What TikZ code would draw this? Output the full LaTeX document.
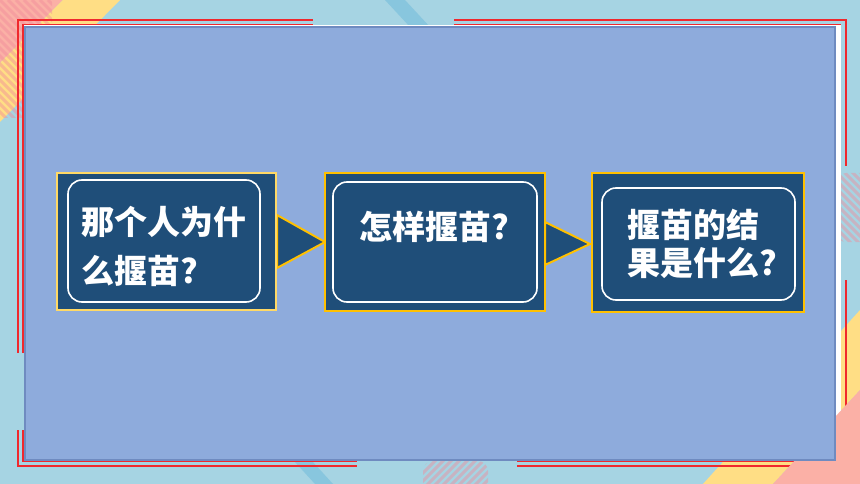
\documentclass[tikz,border=0pt]{standalone}
\usepackage{fontspec}
\newfontfamily\cjk{Noto Sans CJK SC}
\definecolor{bgblue}{HTML}{A6D4E3}
\definecolor{bandblue}{HTML}{88C6DE}
\definecolor{panelblue}{HTML}{8EABDC}
\definecolor{paneledge}{HTML}{6F8BC0}
\definecolor{darkblue}{HTML}{1F4E79}
\definecolor{gold}{HTML}{FFC000}
\definecolor{lightgold}{HTML}{FFD966}
\definecolor{framered}{HTML}{F0282D}
\definecolor{pinkc}{HTML}{FBB0A6}
\definecolor{yellowc}{HTML}{FFDE85}
\definecolor{stripec}{HTML}{F08C9A}
\tikzset{
  redline/.style={draw=framered, line width=1.8pt},
  stripe/.style={draw=stripec, opacity=0.45, line width=3pt},
  outerbox/.style={rectangle, fill=darkblue, draw=gold, line width=2.5pt, inner sep=0pt},
  innerbox/.style={rectangle, rounded corners=14pt, draw=white, line width=1.6pt, inner sep=0pt},
  tri/.style={fill=darkblue, draw=gold, line width=2pt, line join=miter},
  qtext/.style={text=white, font=\cjk\bfseries\fontsize{33}{49}\selectfont, align=left, inner sep=0pt}
}
\begin{document}
\begin{tikzpicture}[x=1pt,y=-1pt]
\useasboundingbox (0,0) rectangle (860,484);
\fill[bgblue] (0,0) rectangle (860,484);
% diagonal bands
\fill[bandblue] (385,0) -- (405,0) -- (430,27) -- (410,27) -- cycle;
\fill[bandblue] (294,461) -- (312,461) -- (333,484) -- (315,484) -- cycle;
% top-left corner decoration
\fill[pinkc] (0,0) -- (63,0) -- (0,63) -- cycle;
\fill[yellowc] (63,0) -- (120,0) -- (0,122) -- (0,63) -- cycle;
\begin{scope}
  \clip[rounded corners=6pt] (-10,-10) rectangle (52,118);
  \foreach \i in {-160,-152,...,60} \draw[stripe] (\i,0) -- ++(140,140);
\end{scope}
% bottom-right yellow band
\fill[yellowc] (703,484) -- (860,310) -- (860,390) -- (773,484) -- cycle;
% hatched patches
\begin{scope}
  \clip[rounded corners=10pt] (423,461) rectangle (488,494);
  \foreach \i in {380,388,...,520} \draw[stripe] (\i,500) -- ++(50,-50);
\end{scope}
\begin{scope}
  \clip[rounded corners=10pt] (836,173) rectangle (870,242);
  \foreach \i in {720,728,...,880} \draw[stripe] (\i,160) -- ++(100,100);
\end{scope}
% red frame lines
\draw[redline] (18,353) -- (18,20) -- (313,20);
\draw[redline] (23,353) -- (23,25) -- (313,25);
\draw[redline] (454,20) -- (846,20) -- (846,166);
\draw[redline] (454,25) -- (840,25) -- (840,166);
\draw[redline] (18,430) -- (18,466) -- (357,466);
\draw[redline] (23,430) -- (23,461) -- (357,461);
\draw[redline] (517,466) -- (846,466) -- (846,280);
\draw[redline] (517,461) -- (840,461) -- (840,280);
% white strip behind panel
\fill[white] (24,25.5) rectangle (840.5,460);
% bottom-right pink corner
\fill[pinkc] (773,484) -- (860,390) -- (860,484) -- cycle;
% main panel
\filldraw[fill=panelblue, draw=paneledge, line width=1.6pt] (24.8,27) rectangle (835,460);
% connecting triangles
\filldraw[tri] (277,215) -- (325,242) -- (277,268) -- cycle;
\filldraw[tri] (545,222) -- (590,244) -- (545,265) -- cycle;
% boxes
\node[outerbox, draw=lightgold, minimum width=219pt, minimum height=137pt] (b1) at (166.5,241.5) {};
\node[innerbox, minimum width=192pt, minimum height=122pt] (i1) at (164,241) {};
\node[outerbox, minimum width=220pt, minimum height=138pt] (b2) at (435,242) {};
\node[innerbox, minimum width=204pt, minimum height=120pt] (i2) at (435,242) {};
\node[outerbox, minimum width=212pt, minimum height=139pt] (b3) at (698,242.5) {};
\node[innerbox, minimum width=193pt, minimum height=112pt] (i3) at (698.5,244) {};
% texts
\node[qtext, anchor=west] (t1) at (81,246.5) {那个人为什\\么揠苗?};
\node[qtext] (t2) at (434,227) {怎样揠苗?};
\node[qtext, anchor=west, font=\cjk\bfseries\fontsize{33}{38}\selectfont] (t3) at (627,244) {揠苗的结\\果是什么?};
\end{tikzpicture}
\end{document}
